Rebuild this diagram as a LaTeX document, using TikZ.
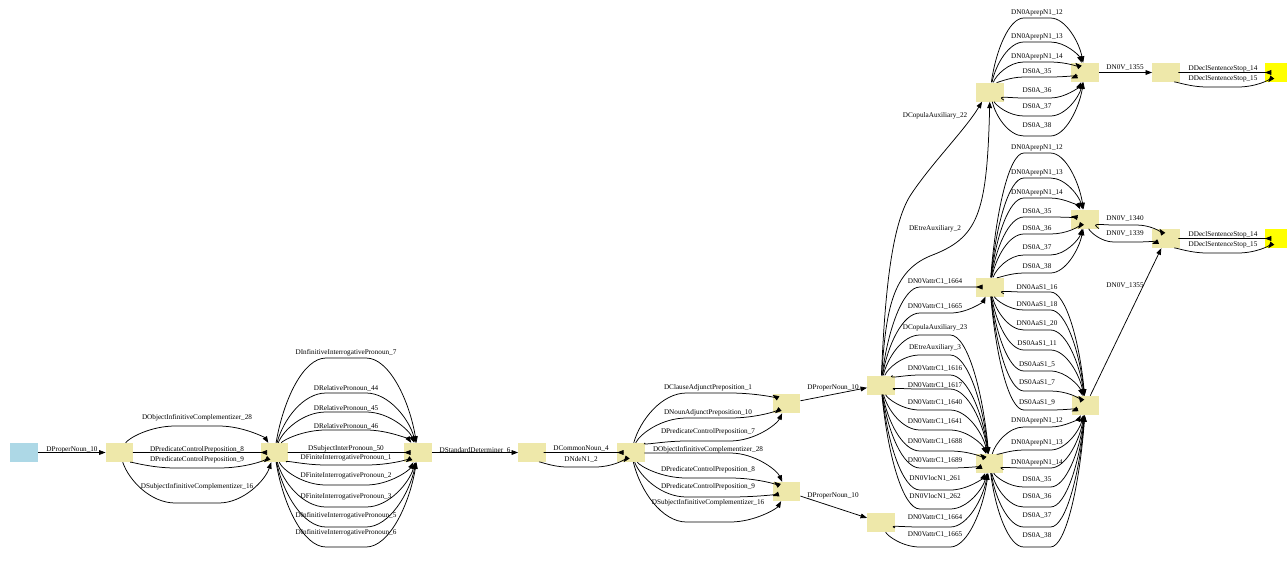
\documentclass[tikz,border=0pt]{standalone}
\usepackage{fontspec}
\setmainfont{Liberation Serif}
\usetikzlibrary{arrows.meta,calc}
\definecolor{pg}{HTML}{EEE8AA}
\definecolor{lb}{HTML}{ADD8E6}
\definecolor{yl}{HTML}{FFFF00}
% edge from #1 to #2, label centre (#3,#4), curve runs at height #5 below the label
\newcommand\E[6]{%
  \draw[gedge] let \p1=(#1.center), \p2=(#2.center), \n1={#3pt-\x1}, \n2={\x2-#3pt} in
    (#1) .. controls ({\x1+0.12*\n1},{0.45*\y1-0.55*#5pt}) and ({\x1+0.4*\n1},{-#5pt}) .. ({\x1+0.72*\n1},{-#5pt})
         -- ({\x2-0.72*\n2},{-#5pt})
         .. controls ({\x2-0.4*\n2},{-#5pt}) and ({\x2-0.12*\n2},{0.45*\y2-0.55*#5pt}) .. (#2);
  \node[lab] at (#3,#4) {#6};}
\begin{document}
\begin{tikzpicture}[x=1pt,y=-1pt,
  box/.style={fill=pg,draw=none,minimum width=27.5pt,minimum height=19pt,inner sep=0pt},
  bluebox/.style={box,fill=lb},
  ybox/.style={box,fill=yl,minimum width=22pt},
  lab/.style={font=\fontsize{7.2}{8}\selectfont,inner sep=0pt},
  gedge/.style={draw=black,line width=0.75pt,-{Triangle[length=6.5pt,width=4.8pt]}}]
\useasboundingbox (0,0) rectangle (1287,560);
\node[bluebox] (n0) at (24,452.5) {};
\node[box] (n1) at (119.5,452.5) {};
\node[box] (n2) at (274.5,452.5) {};
\node[box] (n3) at (418,452.5) {};
\node[box] (n4) at (532,452.5) {};
\node[box] (n5) at (631,452.5) {};
\node[box] (n6) at (786.5,403.5) {};
\node[box] (n7) at (786.5,491.5) {};
\node[box] (n8) at (881,385) {};
\node[box] (n9) at (881,522.5) {};
\node[box] (n10) at (990,92) {};
\node[box] (n11) at (1085,72.5) {};
\node[box] (n12) at (1166,72.5) {};
\node[ybox] (n13) at (1276,72.5) {};
\node[box] (n17) at (990,287) {};
\node[box] (n14) at (1085,219) {};
\node[box] (n15) at (1166,238.5) {};
\node[ybox] (n16) at (1276,238.5) {};
\node[box] (n18) at (1085.5,405.5) {};
\node[box] (n19) at (989.5,463.5) {};
% left part
\draw[gedge] (n0) -- (n1); \node[lab] at (72,450) {DProperNoun\_10};
\E{n1}{n2}{197}{418}{426}{DObjectInfinitiveComplementizer\_28}
\E{n1}{n2}{197}{450}{452.5}{DPredicateControlPreposition\_8}
\E{n1}{n2}{197}{460}{468}{DPredicateControlPreposition\_9}
\E{n1}{n2}{197}{487}{503}{DSubjectInfinitiveComplementizer\_16}
\E{n2}{n3}{346}{353}{358}{DInfinitiveInterrogativePronoun\_7}
\E{n2}{n3}{346}{388}{393}{DRelativePronoun\_44}
\E{n2}{n3}{346}{408}{412}{DRelativePronoun\_45}
\E{n2}{n3}{346}{426}{430}{DRelativePronoun\_46}
\E{n2}{n3}{346}{449}{452.5}{DSubjectInterPronoun\_50}
\E{n2}{n3}{346}{458}{465}{DFiniteInterrogativePronoun\_1}
\E{n2}{n3}{346}{476}{485}{DFiniteInterrogativePronoun\_2}
\E{n2}{n3}{346}{497}{507}{DFiniteInterrogativePronoun\_3}
\E{n2}{n3}{346}{516}{527}{DInfinitiveInterrogativePronoun\_5}
\E{n2}{n3}{346}{533}{547}{DInfinitiveInterrogativePronoun\_6}
\draw[gedge] (n3) -- (n4); \node[lab] at (475,450) {DStandardDeterminer\_6};
\E{n4}{n5}{581}{449}{452.5}{DCommonNoun\_4}
\E{n4}{n5}{581}{459}{467}{DNdeN1\_2}
\E{n5}{n6}{708}{388}{393}{DClauseAdjunctPreposition\_1}
\E{n5}{n6}{708}{413}{418}{DNounAdjunctPreposition\_10}
\E{n5}{n6}{708}{432}{441}{DPredicateControlPreposition\_7}
\E{n5}{n7}{708}{450}{453}{DObjectInfinitiveComplementizer\_28}
\E{n5}{n7}{708}{470}{478}{DPredicateControlPreposition\_8}
\E{n5}{n7}{708}{487}{497}{DPredicateControlPreposition\_9}
\E{n5}{n7}{708}{503}{522}{DSubjectInfinitiveComplementizer\_16}
\draw[gedge] (n6) -- (n8); \node[lab] at (833,388) {DProperNoun\_10};
\draw[gedge] (n7) -- (n9); \node[lab] at (833,496) {DProperNoun\_10};
% n8 fan
\draw[gedge] (n8) .. controls (885,290) and (892,225) .. (910,196) .. controls (930,165) and (965,130) .. ([xshift=6pt]n10.south west);
\node[lab] at (935,116) {DCopulaAuxiliary\_22};
\draw[gedge] (n8) .. controls (886,310) and (892,272) .. (930,256) .. controls (978,238) and (987,215) .. (n10);
\node[lab] at (935,229) {DEtreAuxiliary\_2};
\E{n8}{n17}{935}{282}{287}{DN0VattrC1\_1664}
\E{n8}{n17}{935}{307}{313}{DN0VattrC1\_1665}
\E{n8}{n19}{935}{328}{335}{DCopulaAuxiliary\_23}
\E{n8}{n19}{935}{348}{355}{DEtreAuxiliary\_3}
\E{n8}{n19}{935}{369}{375}{DN0VattrC1\_1616}
\E{n8}{n19}{935}{386}{389}{DN0VattrC1\_1617}
\E{n8}{n19}{935}{403}{410}{DN0VattrC1\_1640}
\E{n8}{n19}{935}{422}{430}{DN0VattrC1\_1641}
\E{n8}{n19}{935}{442}{451}{DN0VattrC1\_1688}
\E{n8}{n19}{935}{461}{468}{DN0VattrC1\_1689}
\E{n8}{n19}{935}{478}{490}{DN0VlocN1\_261}
\E{n8}{n19}{935}{496}{509}{DN0VlocN1\_262}
\E{n9}{n19}{935}{518}{527}{DN0VattrC1\_1664}
\E{n9}{n19}{935}{535}{547}{DN0VattrC1\_1665}
% top branch
\E{n10}{n11}{1037}{13}{18}{DN0AprepN1\_12}
\E{n10}{n11}{1037}{37}{42}{DN0AprepN1\_13}
\E{n10}{n11}{1037}{57}{62}{DN0AprepN1\_14}
\E{n10}{n11}{1037}{72}{77}{DS0A\_35}
\E{n10}{n11}{1037}{91}{98}{DS0A\_36}
\E{n10}{n11}{1037}{107}{116}{DS0A\_37}
\E{n10}{n11}{1037}{126}{136}{DS0A\_38}
\draw[gedge] (n11) -- (n12); \node[lab] at (1125,68) {DN0V\_1355};
\E{n12}{n13}{1223}{69}{72.5}{DDeclSentenceStop\_14}
\E{n12}{n13}{1223}{79}{87}{DDeclSentenceStop\_15}
% middle branch
\E{n17}{n14}{1037}{148}{153}{DN0AprepN1\_12}
\E{n17}{n14}{1037}{173}{178}{DN0AprepN1\_13}
\E{n17}{n14}{1037}{193}{198}{DN0AprepN1\_14}
\E{n17}{n14}{1037}{212}{217}{DS0A\_35}
\E{n17}{n14}{1037}{229}{234}{DS0A\_36}
\E{n17}{n14}{1037}{248}{255}{DS0A\_37}
\E{n17}{n14}{1037}{267}{273}{DS0A\_38}
\E{n14}{n15}{1125}{219}{225}{DN0V\_1340}
\E{n14}{n15}{1125}{234}{242}{DN0V\_1339}
\E{n15}{n16}{1223}{235}{238.5}{DDeclSentenceStop\_14}
\E{n15}{n16}{1223}{245}{253}{DDeclSentenceStop\_15}
\draw[gedge] (n18) -- (n15); \node[lab] at (1125,286) {DN0V\_1355};
\E{n17}{n18}{1037}{288}{292}{DN0AaS1\_16}
\E{n17}{n18}{1037}{305}{310}{DN0AaS1\_18}
\E{n17}{n18}{1037}{324}{330}{DN0AaS1\_20}
\E{n17}{n18}{1037}{344}{350}{DS0AaS1\_11}
\E{n17}{n18}{1037}{365}{371}{DS0AaS1\_5}
\E{n17}{n18}{1037}{383}{391}{DS0AaS1\_7}
\E{n17}{n18}{1037}{403}{410}{DS0AaS1\_9}
\E{n19}{n18}{1037}{421}{427}{DN0AprepN1\_12}
\E{n19}{n18}{1037}{443}{450}{DN0AprepN1\_13}
\E{n19}{n18}{1037}{463}{468}{DN0AprepN1\_14}
\E{n19}{n18}{1037}{480}{487}{DS0A\_35}
\E{n19}{n18}{1037}{497}{507}{DS0A\_36}
\E{n19}{n18}{1037}{516}{527}{DS0A\_37}
\E{n19}{n18}{1037}{536}{547}{DS0A\_38}
\end{tikzpicture}
\end{document}
